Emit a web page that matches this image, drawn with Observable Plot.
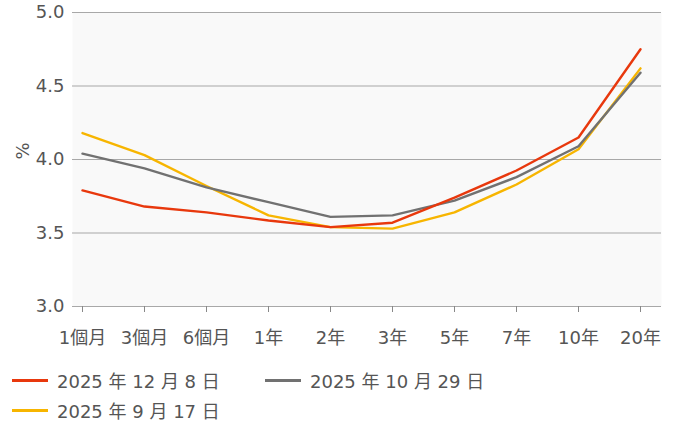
<!DOCTYPE html>
<html><head><meta charset="utf-8">
<script src="https://cdn.jsdelivr.net/npm/d3@7"></script>
<script src="https://cdn.jsdelivr.net/npm/@observablehq/plot@0.6"></script>
<style>
body{margin:0;background:#fff;font-family:"DejaVu Sans","Noto Sans CJK JP",sans-serif;}
#legend{display:flex;flex-wrap:wrap;width:500px;margin-left:12px;margin-top:18px;row-gap:6px;}
.item{display:flex;align-items:center;font-size:18px;color:#555;height:24px;white-space:nowrap;}
.item.first{width:253px;}
.sw{width:36px;height:3px;margin-right:9px;}
</style></head>
<body>
<div id="chart"></div>
<div id="legend"></div>
<script>
const tenors = ["1個月","3個月","6個月","1年","2年","3年","5年","7年","10年","20年"];
const seriesNames = ["2025年12月8日","2025年10月29日","2025年9月17日"];
const seriesLabels = ["2025 年 12 月 8 日","2025 年 10 月 29 日","2025 年 9 月 17 日"];
const colors = ["#e8380d","#717171","#f7b500"];
const dec8 = [3.79,3.68,3.64,3.585,3.54,3.57,3.74,3.925,4.15,4.75];
const oct29 = [4.04,3.94,3.81,3.71,3.61,3.62,3.72,3.88,4.09,4.59];
const sep17 = [4.18,4.03,3.82,3.62,3.54,3.53,3.64,3.83,4.07,4.62];
const yTicks = [3.0,3.5,4.0,4.5,5.0];

const allSeries = [dec8, oct29, sep17];
const data = [];
// draw order: yellow, gray, red on top
[2,1,0].forEach(s => tenors.forEach((t,i) => data.push({tenor:t, value:allSeries[s][i], series:seriesNames[s]})));

const font = '"DejaVu Sans","Noto Sans CJK JP",sans-serif';
const plot = Plot.plot({
  width: 677, height: 350,
  marginTop: 12, marginBottom: 44, marginLeft: 72, marginRight: 16,
  style: {fontFamily: font, fontSize: "18px", color: "#555", background: "#fff"},
  x: {type: "point", domain: tenors, padding: 0, insetLeft: 8, insetRight: 20, label: null},
  y: {domain: [3, 5], label: null},
  color: {domain: seriesNames, range: colors},
  marks: [
    Plot.frame({fill: "#f9f9f9", stroke: null}),
    Plot.ruleY(yTicks, {stroke: "#a8a8a8", strokeWidth: 1.2}),
    Plot.axisX({tickSize: 6, tickPadding: 19, stroke: "#888", fill: "#555", fontSize: 18, letterSpacing: -0.6}),
    Plot.axisY({ticks: yTicks, tickFormat: d3.format(".1f"), tickSize: 0, tickPadding: 8, fill: "#555", fontSize: 18}),
    Plot.text(["%"], {frameAnchor: "left", dx: -49, y: 4.0, rotate: -90, fontSize: 18, fill: "#555"}),
    Plot.line(data, {x: "tenor", y: "value", z: "series", stroke: "series", strokeWidth: 2.4})
  ]
});
document.getElementById("chart").appendChild(plot);

const legend = document.getElementById("legend");
seriesNames.forEach((n, i) => {
  const d = document.createElement("div");
  d.className = "item" + (i === 0 ? " first" : "");
  d.innerHTML = `<span class="sw" style="background:${colors[i]}"></span>${seriesLabels[i]}`;
  legend.appendChild(d);
});
</script>
</body></html>
